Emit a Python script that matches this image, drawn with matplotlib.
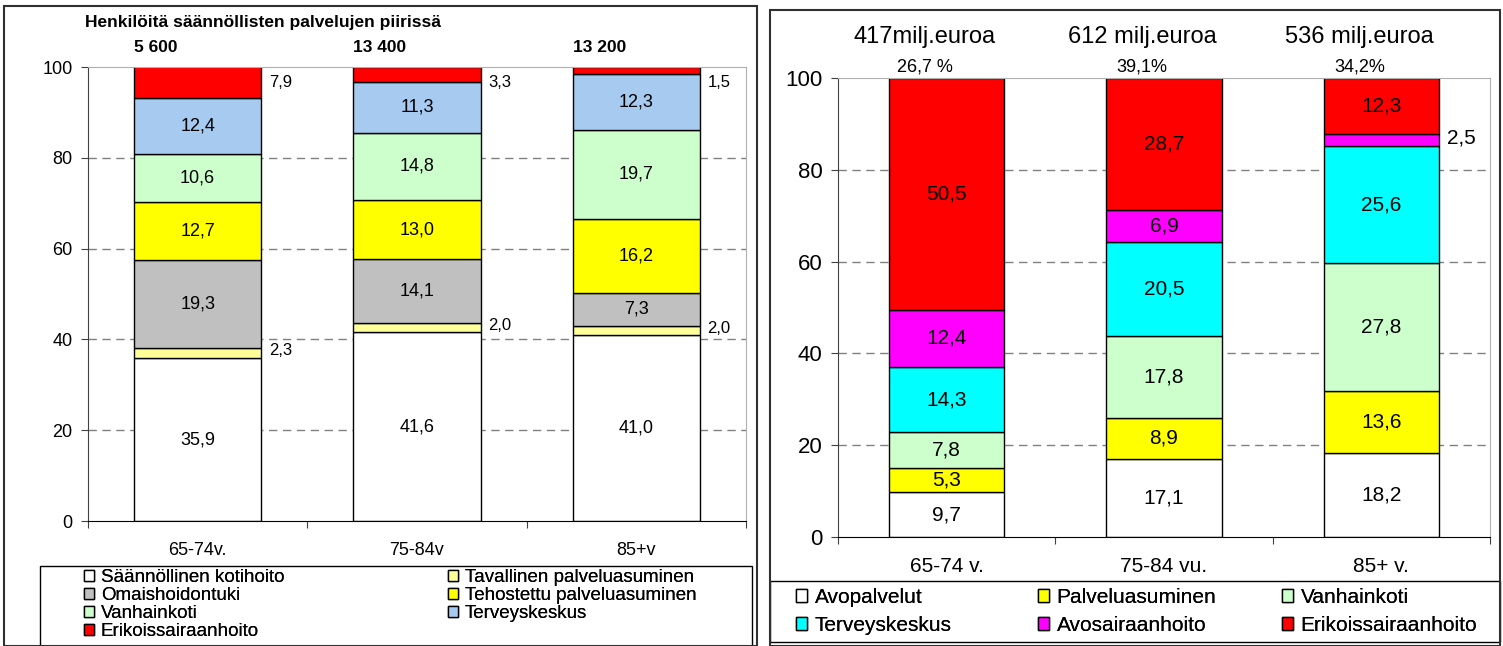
import matplotlib
matplotlib.use("Agg")
import matplotlib.pyplot as plt
from matplotlib.patches import Patch, Rectangle
from matplotlib.transforms import blended_transform_factory
import numpy as np

plt.rcParams["font.family"] = ["Liberation Sans", "DejaVu Sans"]

# --- left chart: persons in regular services (%)
left_groups = ["65-74v.", "75-84v", "85+v"]
left_totals = ["5 600", "13 400", "13 200"]
left_series = [
    "Säännöllinen kotihoito",
    "Tavallinen palveluasuminen",
    "Omaishoidontuki",
    "Tehostettu palveluasuminen",
    "Vanhainkoti",
    "Terveyskeskus",
    "Erikoissairaanhoito",
]
left_values = [
    [35.9, 41.6, 41.0],
    [2.3, 2.0, 2.0],
    [19.3, 14.1, 7.3],
    [12.7, 13.0, 16.2],
    [10.6, 14.8, 19.7],
    [12.4, 11.3, 12.3],
    [7.9, 3.3, 1.5],
]
left_colors = ["#FFFFFF", "#FFFF99", "#C0C0C0", "#FFFF00", "#CCFFCC", "#A6CAF0", "#FF0000"]
left_title = "Henkilöitä säännöllisten palvelujen piirissä"

# --- right chart: costs (%)
right_groups = ["65-74 v.", "75-84 vu.", "85+ v."]
right_costs = ["417milj.euroa", "612 milj.euroa", "536 milj.euroa"]
right_shares = ["26,7 %", "39,1%", "34,2%"]
right_series = ["Avopalvelut", "Palveluasuminen", "Vanhainkoti",
                "Terveyskeskus", "Avosairaanhoito", "Erikoissairaanhoito"]
right_values = [
    [9.7, 17.1, 18.2],
    [5.3, 8.9, 13.6],
    [7.8, 17.8, 27.8],
    [14.3, 20.5, 25.6],
    [12.4, 6.9, 2.5],
    [50.5, 28.7, 12.3],
]
right_colors = ["#FFFFFF", "#FFFF00", "#CCFFCC", "#00FFFF", "#FF00FF", "#FF0000"]

W, H = 1503, 646
fig = plt.figure(figsize=(W / 100, H / 100), dpi=100)


def px_axes(l, t, r, b):
    return fig.add_axes([l / W, 1 - b / H, (r - l) / W, (b - t) / H])


def fmt(v):
    return f"{v:.1f}".replace(".", ",")


def frame(l, t, r, b, lw=1.0, color="black"):
    fig.add_artist(Rectangle((l / W, 1 - b / H), (r - l) / W, (b - t) / H,
                             transform=fig.transFigure, fill=False,
                             edgecolor=color, lw=lw))


def style_axes(ax, fs):
    ax.set_ylim(0, 100)
    ax.set_xlim(-0.5, 2.5)
    ax.set_yticks(range(0, 101, 20))
    for y in (20, 40, 60, 80):
        ax.axhline(y, color="#808080", lw=1, ls=(0, (6, 4)), zorder=0)
    ax.spines["top"].set_color("#B0B0B0")
    ax.spines["right"].set_color("#B0B0B0")
    ax.spines["left"].set_color("#404040")
    ax.spines["bottom"].set_color("#000000")
    ax.set_xticks([-0.5, 0.5, 1.5, 2.5])
    ax.set_xticklabels([])
    ax.tick_params(axis="y", labelsize=fs, length=5, color="#404040", pad=6)
    ax.tick_params(axis="x", length=5, color="#404040")


def stacked(ax, values, colors, width, fs_in, fs_out, top_outside):
    x = np.arange(3)
    bottom = np.zeros(3)
    n = len(values)
    for i, vals in enumerate(values):
        vals = np.array(vals)
        ax.bar(x, vals, width, bottom=bottom, color=colors[i],
               edgecolor="black", lw=1, zorder=2)
        for j, v in enumerate(vals):
            yc = bottom[j] + v / 2
            outside = v < 3 or (top_outside and i == n - 1)
            if not outside:
                ax.text(x[j], yc, fmt(v), ha="center", va="center",
                        fontsize=fs_in, zorder=3)
            else:
                if i == n - 1:
                    yc = min(yc, 96)
                ax.text(x[j] + width / 2 + 0.035, yc + 0.5, fmt(v),
                        ha="left", va="center", fontsize=fs_out, zorder=3)
        bottom += vals
    return x


def legend_column(labels, colors, x, y, fs, spacing):
    handles = [Patch(facecolor=c, edgecolor="black", lw=1) for c in colors]
    lg = fig.legend(handles, labels, loc="upper left",
                    bbox_to_anchor=(x / W, 1 - y / H), fontsize=fs,
                    frameon=False, handlelength=0.55, handleheight=0.55,
                    handletextpad=0.35, labelspacing=spacing,
                    borderpad=0, borderaxespad=0)
    fig.add_artist(lg)


# left panel
axl = px_axes(88, 67, 746, 521)
style_axes(axl, 13)
xl = stacked(axl, left_values, left_colors, 0.58, 13, 12, True)
trl = blended_transform_factory(axl.transData, axl.transAxes)
for j, g in enumerate(left_groups):
    axl.text(xl[j], -0.065, g, transform=trl, ha="center", va="center", fontsize=13)
for j, t in enumerate(left_totals):
    axl.text(xl[j] - 0.29, 1.042, t, transform=trl, ha="left", va="center",
             fontsize=12.5, fontweight="bold")
axl.text(-0.005, 1.099, left_title, transform=axl.transAxes, ha="left", va="center",
         fontsize=12.5, fontweight="bold")

# left legend, row-major as in the original
frame(40, 566, 752, 646)
legend_column(left_series[0::2], left_colors[0::2], 84, 569, 13.5, 0.06)
legend_column(left_series[1::2], left_colors[1::2], 448, 569, 13.5, 0.06)

# right panel
axr = px_axes(838, 78, 1490, 537)
style_axes(axr, 16)
xr = stacked(axr, right_values, right_colors, 0.53, 15, 15, False)
trr = blended_transform_factory(axr.transData, axr.transAxes)
for j, g in enumerate(right_groups):
    axr.text(xr[j], -0.065, g, transform=trr, ha="center", va="center", fontsize=15)
for j in range(3):
    axr.text(xr[j] - 0.1, 1.089, right_costs[j], transform=trr, ha="center",
             va="center", fontsize=17)
    axr.text(xr[j] - 0.1, 1.025, right_shares[j], transform=trr, ha="center",
             va="center", fontsize=13)

frame(770, 581, 1500, 642)
for k, xpos in enumerate([796, 1038, 1282]):
    legend_column(right_series[k::3], right_colors[k::3], xpos, 588, 15, 0.42)

# panel borders
frame(4, 6, 757, 646, lw=1.5, color="#303030")
frame(770, 10, 1500, 646, lw=1.5, color="#303030")

fig.savefig("out.png", dpi=100)
